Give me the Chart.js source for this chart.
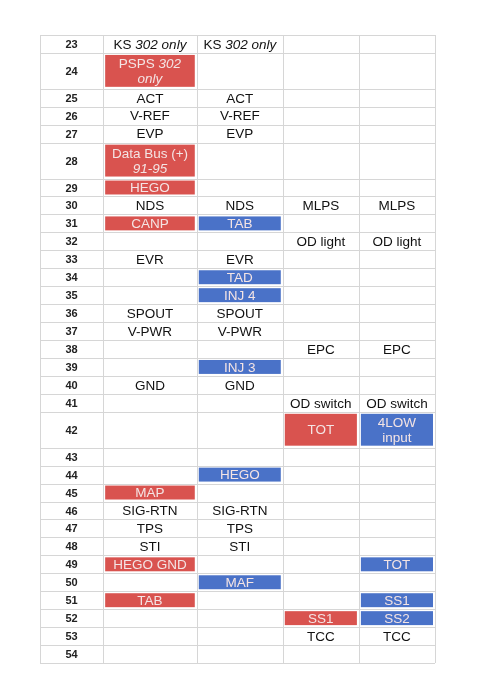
<!DOCTYPE html>
<html><head><meta charset="utf-8">
<script src="https://cdn.jsdelivr.net/npm/chart.js@4"></script>
<style>html,body{margin:0;background:#fff}#w{width:480px;height:698px}</style>
</head><body><div id="w"><canvas id="c"></canvas></div>
<script>
const rows=[23,24,25,26,27,28,29,30,31,32,33,34,35,36,37,38,39,40,41,42,43,44,45,46,47,48,49,50,51,52,53,54];
const rowSpan=[1,2,1,1,1,2,1,1,1,1,1,1,1,1,1,1,1,1,1,2,1,1,1,1,1,1,1,1,1,1,1,1];
const colWidths=[0.83,1.23,1.13,1.0,1.0];
const col1=["KS _302 only_","PSPS _302_\n_only_","ACT","V-REF","EVP","Data Bus (+)\n_91-95_","HEGO","NDS","CANP","","EVR","","","SPOUT","V-PWR","","","GND","","","","","MAP","SIG-RTN","TPS","STI","HEGO GND","","TAB","","",""];
const col2=["KS _302 only_","","ACT","V-REF","EVP","","","NDS","TAB","","EVR","TAD","INJ 4","SPOUT","V-PWR","","INJ 3","GND","","","","HEGO","","SIG-RTN","TPS","STI","","MAF","","","",""];
const col3=["","","","","","","","MLPS","","OD light","","","","","","EPC","","","OD switch","TOT","","","","","","","","","","SS1","TCC",""];
const col4=["","","","","","","","MLPS","","OD light","","","","","","EPC","","","OD switch","4LOW\ninput","","","","","","","TOT","","SS1","SS2","TCC",""];
const fill1=["","r","","","","r","r","","r","","","","","","","","","","","","","","r","","","","r","","r","","",""];
const fill2=["","","","","","","","","b","","","b","b","","","","b","","","","","b","","","","","","b","","","",""];
const fill3=["","","","","","","","","","","","","","","","","","","","r","","","","","","","","","","r","",""];
const fill4=["","","","","","","","","","","","","","","","","","","","b","","","","","","","b","","b","b","",""];

const cols=[col1,col2,col3,col4], fills=[fill1,fill2,fill3,fill4];
const COLORS={r:'#d9534f',b:'#4a72c8'};
const totalRows=rowSpan.reduce((a,b)=>a+b,0);
const totalCols=colWidths.reduce((a,b)=>a+b,0);
const rowStart=[];let acc=0;for(const s of rowSpan){rowStart.push(acc);acc+=s;}
const colStart=[];acc=0;for(const w of colWidths){colStart.push(acc);acc+=w;}

function drawRich(ctx,str,cx,cy,size,color){
  const lines=str.split('\n');const lh=size*1.15;
  lines.forEach((ln,i)=>{
    const segs=[];let it=false;
    ln.split('_').forEach((p,k)=>{if(k>0)it=!it;if(p)segs.push({t:p,it});});
    let w=0;segs.forEach(s=>{ctx.font=(s.it?'italic ':'')+size+'px "Liberation Sans", Arial';s.w=ctx.measureText(s.t).width;w+=s.w;});
    let x=cx-w/2;const y=cy+(i-(lines.length-1)/2)*lh;
    segs.forEach(s=>{ctx.font=(s.it?'italic ':'')+size+'px "Liberation Sans", Arial';ctx.fillStyle=color;ctx.textBaseline='middle';ctx.textAlign='left';ctx.fillText(s.t,x,y+1);x+=s.w;});
  });
}

const tablePlugin={id:'table',afterDatasetsDraw(chart){
  const ctx=chart.ctx,xs=chart.scales.x,ys=chart.scales.y;
  ctx.save();
  rows.forEach((r,i)=>{
    const y0=ys.getPixelForValue(rowStart[i]),y1=ys.getPixelForValue(rowStart[i]+rowSpan[i]);
    for(let c=0;c<4;c++){
      const x0=xs.getPixelForValue(colStart[c+1]),x1=xs.getPixelForValue(colStart[c+1]+colWidths[c+1]);
      const f=fills[c][i];
      if(f){ctx.fillStyle=COLORS[f];ctx.fillRect(x0+2,y0+2,x1-x0-4,y1-y0-4);}
    }
  });
  ctx.strokeStyle='#d6d6d6';ctx.lineWidth=1;
  const L=xs.getPixelForValue(0),R=xs.getPixelForValue(totalCols);
  const T=ys.getPixelForValue(0),B=ys.getPixelForValue(totalRows);
  rows.forEach((r,i)=>{const y=Math.round(ys.getPixelForValue(rowStart[i]))+0.5;ctx.beginPath();ctx.moveTo(L,y);ctx.lineTo(R,y);ctx.stroke();});
  ctx.beginPath();ctx.moveTo(L,Math.round(B)+0.5);ctx.lineTo(R,Math.round(B)+0.5);ctx.stroke();
  colStart.concat([totalCols]).forEach(v=>{const x=Math.round(xs.getPixelForValue(v))+0.5;ctx.beginPath();ctx.moveTo(x,T);ctx.lineTo(x,B);ctx.stroke();});
  rows.forEach((r,i)=>{
    const yc=ys.getPixelForValue(rowStart[i]+rowSpan[i]/2);
    ctx.font='bold 11px "Liberation Sans", Arial';ctx.fillStyle='#222';ctx.textAlign='center';ctx.textBaseline='middle';
    ctx.fillText(String(r),xs.getPixelForValue(colWidths[0]/2),yc+1);
    for(let c=0;c<4;c++){
      const t=cols[c][i];if(!t)continue;
      const xc=xs.getPixelForValue(colStart[c+1]+colWidths[c+1]/2);
      drawRich(ctx,t,xc,yc,13.5,fills[c][i]?'#f4e4e4':'#111');
    }
  });
  ctx.restore();
}};

new Chart(document.getElementById('c'),{
  type:'scatter',
  data:{datasets:[{data:[],pointRadius:0}]},
  options:{responsive:true,maintainAspectRatio:false,animation:false,
    layout:{padding:{left:40,right:45,top:35,bottom:35}},
    plugins:{legend:{display:false},tooltip:{enabled:false}},
    scales:{x:{type:'linear',min:0,max:totalCols,display:false},
            y:{type:'linear',min:0,max:totalRows,reverse:true,display:false}}},
  plugins:[tablePlugin]
});
</script></body></html>
